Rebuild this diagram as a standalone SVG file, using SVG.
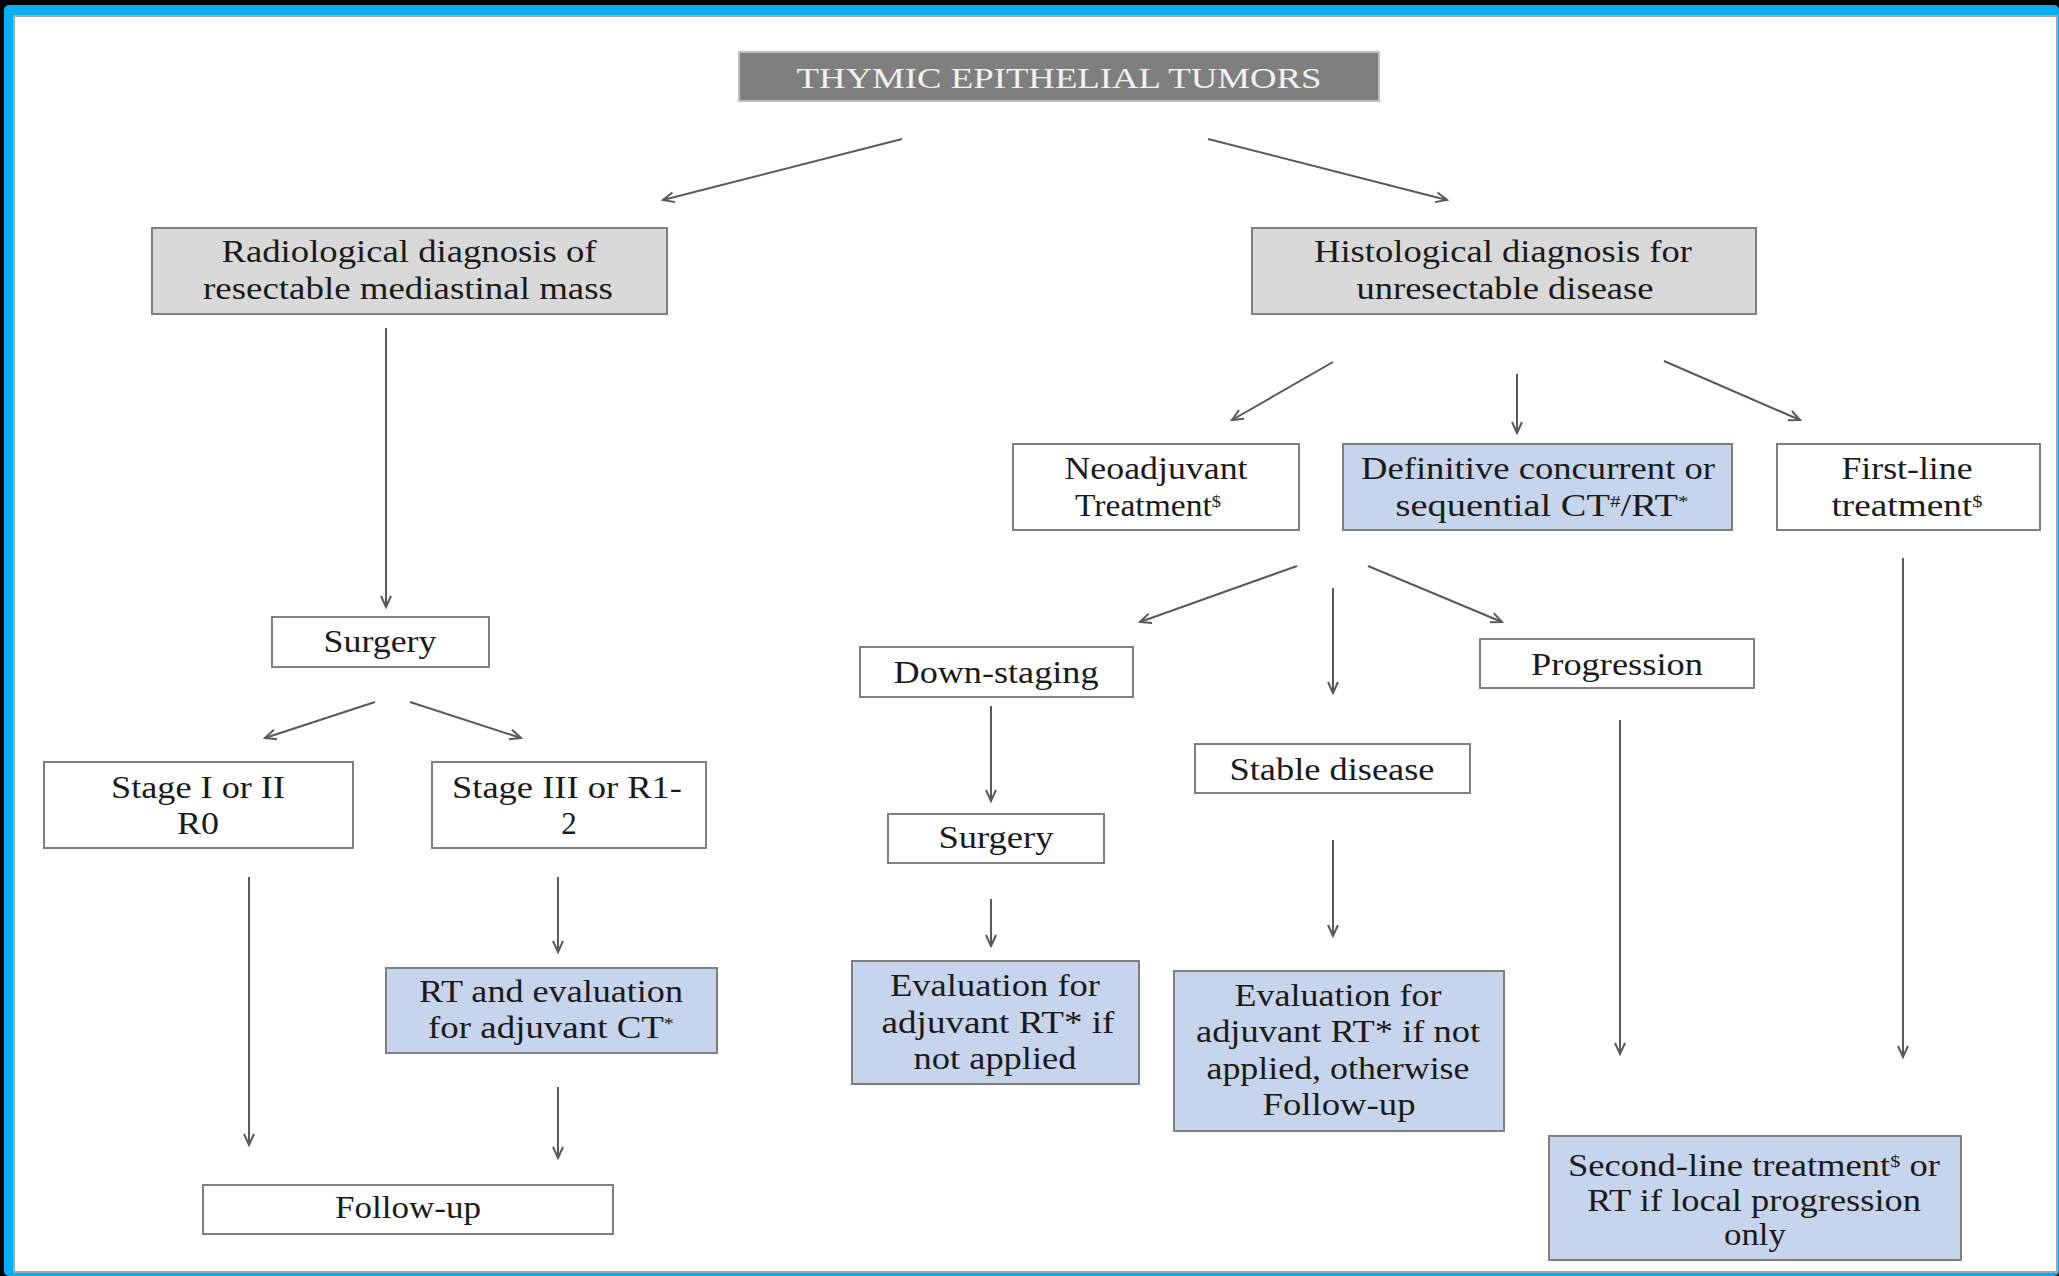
<svg xmlns="http://www.w3.org/2000/svg" width="2059" height="1276" viewBox="0 0 2059 1276">
<defs>
<marker id="ah" markerUnits="userSpaceOnUse" markerWidth="16" markerHeight="16" viewBox="0 0 16 16" refX="14" refY="8" orient="auto">
<path d="M3,3 L14,8 L3,13" fill="none" stroke="#595959" stroke-width="2"/>
</marker>
<style>
.box{stroke:#7f7f7f;stroke-width:2}
.w{fill:#ffffff}
.g{fill:#d9d9d9}
.b{fill:#c6d5ec}
.t{font-family:"Liberation Serif","Times New Roman",serif;font-size:31px;fill:#1a1a1a;text-anchor:middle}
.c line{stroke:#595959;stroke-width:2;marker-end:url(#ah)}
.sup{font-size:17px}
</style>
</defs>
<rect x="0" y="0" width="2059" height="1276" fill="#000000"/>
<rect x="4" y="5" width="2055" height="1271" rx="5" fill="#00b0f0"/>
<rect x="14" y="16" width="2043" height="1256" fill="#ffffff" stroke="#a6a6a6" stroke-width="2"/>

<g id="n-title">
<rect x="739" y="52" width="640" height="49" fill="#7f7f7f" stroke="#bfbfbf" stroke-width="2"/>
<text x="1059" y="88" class="t" style="fill:#f2f2f2;font-size:30px" textLength="525" lengthAdjust="spacingAndGlyphs">THYMIC EPITHELIAL TUMORS</text>
</g>
<g id="n-radiological">
<rect x="152" y="228" width="515" height="86" class="box g"/>
<text x="409" y="262" class="t" textLength="375" lengthAdjust="spacingAndGlyphs">Radiological diagnosis of</text>
<text x="408" y="299" class="t" textLength="410" lengthAdjust="spacingAndGlyphs">resectable mediastinal mass</text>
</g>
<g id="n-histological">
<rect x="1252" y="228" width="504" height="86" class="box g"/>
<text x="1503" y="262" class="t" textLength="378" lengthAdjust="spacingAndGlyphs">Histological diagnosis for</text>
<text x="1505" y="299" class="t" textLength="297" lengthAdjust="spacingAndGlyphs">unresectable disease</text>
</g>
<g id="n-surgery1">
<rect x="272" y="617" width="217" height="50" class="box w"/>
<text x="380" y="652" class="t" textLength="113" lengthAdjust="spacingAndGlyphs">Surgery</text>
</g>
<g id="n-stage12">
<rect x="44" y="762" width="309" height="86" class="box w"/>
<text x="198" y="798" class="t" textLength="174" lengthAdjust="spacingAndGlyphs">Stage I or II</text>
<text x="198" y="834" class="t" textLength="42" lengthAdjust="spacingAndGlyphs">R0</text>
</g>
<g id="n-stage3">
<rect x="432" y="762" width="274" height="86" class="box w"/>
<text x="567" y="798" class="t" textLength="230" lengthAdjust="spacingAndGlyphs">Stage III or R1-</text>
<text x="569" y="834" class="t">2</text>
</g>
<g id="n-rt-eval">
<rect x="386" y="968" width="331" height="85" class="box b"/>
<text x="551" y="1002" class="t" textLength="264" lengthAdjust="spacingAndGlyphs">RT and evaluation</text>
<text x="551" y="1038" class="t" textLength="246" lengthAdjust="spacingAndGlyphs">for adjuvant CT<tspan class="sup" baseline-shift="super">*</tspan></text>
</g>
<g id="n-followup">
<rect x="203" y="1185" width="410" height="49" class="box w"/>
<text x="408" y="1218" class="t" textLength="146" lengthAdjust="spacingAndGlyphs">Follow-up</text>
</g>
<g id="n-neoadjuvant">
<rect x="1013" y="444" width="286" height="86" class="box w"/>
<text x="1156" y="479" class="t" textLength="183" lengthAdjust="spacingAndGlyphs">Neoadjuvant</text>
<text x="1148" y="516" class="t" textLength="146" lengthAdjust="spacingAndGlyphs">Treatment<tspan class="sup" baseline-shift="super">$</tspan></text>
</g>
<g id="n-definitive">
<rect x="1343" y="444" width="389" height="86" class="box b"/>
<text x="1538" y="479" class="t" textLength="354" lengthAdjust="spacingAndGlyphs">Definitive concurrent or</text>
<text x="1542" y="516" class="t" textLength="293" lengthAdjust="spacingAndGlyphs">sequential CT<tspan class="sup" baseline-shift="super">#</tspan>/RT<tspan class="sup" baseline-shift="super">*</tspan></text>
</g>
<g id="n-firstline">
<rect x="1777" y="444" width="263" height="86" class="box w"/>
<text x="1907" y="479" class="t" textLength="131" lengthAdjust="spacingAndGlyphs">First-line</text>
<text x="1907" y="516" class="t" textLength="151" lengthAdjust="spacingAndGlyphs">treatment<tspan class="sup" baseline-shift="super">$</tspan></text>
</g>
<g id="n-downstaging">
<rect x="860" y="647" width="273" height="50" class="box w"/>
<text x="996" y="683" class="t" textLength="205" lengthAdjust="spacingAndGlyphs">Down-staging</text>
</g>
<g id="n-progression">
<rect x="1480" y="639" width="274" height="49" class="box w"/>
<text x="1617" y="675" class="t" textLength="172" lengthAdjust="spacingAndGlyphs">Progression</text>
</g>
<g id="n-stable">
<rect x="1195" y="744" width="275" height="49" class="box w"/>
<text x="1332" y="780" class="t" textLength="205" lengthAdjust="spacingAndGlyphs">Stable disease</text>
</g>
<g id="n-surgery2">
<rect x="888" y="814" width="216" height="49" class="box w"/>
<text x="996" y="848" class="t" textLength="115" lengthAdjust="spacingAndGlyphs">Surgery</text>
</g>
<g id="n-eval1">
<rect x="852" y="961" width="287" height="123" class="box b"/>
<text x="995" y="996" class="t" textLength="210" lengthAdjust="spacingAndGlyphs">Evaluation for</text>
<text x="998" y="1033" class="t" textLength="233" lengthAdjust="spacingAndGlyphs">adjuvant RT* if</text>
<text x="995" y="1069" class="t" textLength="163" lengthAdjust="spacingAndGlyphs">not applied</text>
</g>
<g id="n-eval2">
<rect x="1174" y="971" width="330" height="160" class="box b"/>
<text x="1338" y="1006" class="t" textLength="207" lengthAdjust="spacingAndGlyphs">Evaluation for</text>
<text x="1338" y="1042" class="t" textLength="284" lengthAdjust="spacingAndGlyphs">adjuvant RT* if not</text>
<text x="1338" y="1079" class="t" textLength="263" lengthAdjust="spacingAndGlyphs">applied, otherwise</text>
<text x="1339" y="1115" class="t" textLength="153" lengthAdjust="spacingAndGlyphs">Follow-up</text>
</g>
<g id="n-secondline">
<rect x="1549" y="1136" width="412" height="124" class="box b"/>
<text x="1754" y="1176" class="t" textLength="372" lengthAdjust="spacingAndGlyphs">Second-line treatment<tspan class="sup" baseline-shift="super">$</tspan> or</text>
<text x="1754" y="1211" class="t" textLength="334" lengthAdjust="spacingAndGlyphs">RT if local progression</text>
<text x="1755" y="1245" class="t" textLength="62" lengthAdjust="spacingAndGlyphs">only</text>
</g>

<g id="connectors" class="c">
<line x1="902" y1="139" x2="663" y2="200"/>
<line x1="1208" y1="139" x2="1447" y2="200"/>
<line x1="386" y1="328" x2="386" y2="607"/>
<line x1="375" y1="702" x2="265" y2="738"/>
<line x1="410" y1="702" x2="521" y2="738"/>
<line x1="249" y1="877" x2="249" y2="1145"/>
<line x1="558" y1="877" x2="558" y2="952"/>
<line x1="558" y1="1087" x2="558" y2="1158"/>
<line x1="1333" y1="362" x2="1232" y2="420"/>
<line x1="1517" y1="374" x2="1517" y2="433"/>
<line x1="1664" y1="361" x2="1800" y2="420"/>
<line x1="1297" y1="566" x2="1140" y2="622"/>
<line x1="1333" y1="588" x2="1333" y2="693"/>
<line x1="1368" y1="566" x2="1502" y2="622"/>
<line x1="1903" y1="558" x2="1903" y2="1057"/>
<line x1="991" y1="706" x2="991" y2="801"/>
<line x1="991" y1="899" x2="991" y2="946"/>
<line x1="1333" y1="840" x2="1333" y2="936"/>
<line x1="1620" y1="720" x2="1620" y2="1054"/>
</g>
</svg>
